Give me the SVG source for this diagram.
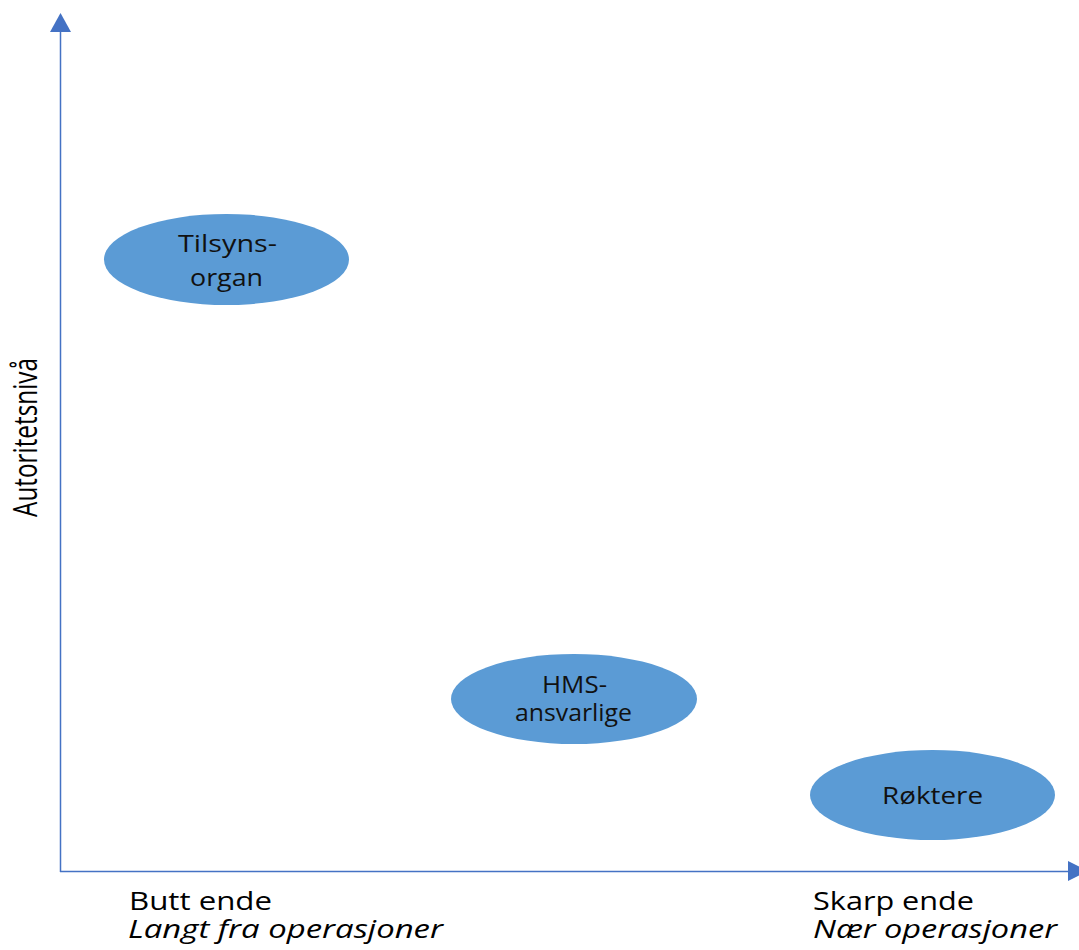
<svg xmlns="http://www.w3.org/2000/svg" width="1079" height="950" viewBox="0 0 1079 950">
  <style>
    .axis { stroke: #4472C4; stroke-width: 1.5; fill: none; }
    .head { fill: #4472C4; }
    .node { fill: #5B9BD5; }
    .lbl { font-family: "Open Sans", "Liberation Sans", sans-serif; fill: #111; }
    .ax { font-family: "Open Sans", "Liberation Sans", sans-serif; fill: #000; }
  </style>
  <rect width="1079" height="950" fill="#ffffff"/>
  <g id="connectors">
    <line class="axis" x1="60.5" y1="872" x2="60.5" y2="28"/>
    <polygon class="head" points="60.5,13 50,32 71,32"/>
    <line class="axis" x1="60" y1="871.5" x2="1072" y2="871.5"/>
    <polygon class="head" points="1088,871 1068,861 1068,881"/>
  </g>
  <g id="axis-labels">
    <text class="ax" font-size="33" transform="translate(37,437.5) rotate(-90)" x="-79.5" y="0" textLength="159" lengthAdjust="spacingAndGlyphs">Autoritetsnivå</text>
    <text class="ax" font-size="26" x="129" y="910" textLength="143" lengthAdjust="spacingAndGlyphs">Butt ende</text>
    <text class="ax" font-size="25" font-style="italic" x="128" y="938" textLength="315" lengthAdjust="spacingAndGlyphs">Langt fra operasjoner</text>
    <text class="ax" font-size="26" x="813" y="910" textLength="161" lengthAdjust="spacingAndGlyphs">Skarp ende</text>
    <text class="ax" font-size="25" font-style="italic" x="813" y="938" textLength="244" lengthAdjust="spacingAndGlyphs">Nær operasjoner</text>
  </g>
  <g id="node-tilsynsorgan">
    <ellipse class="node" cx="226.5" cy="259.5" rx="122.5" ry="45.5"/>
    <text class="lbl" font-size="23" x="178" y="252" textLength="99" lengthAdjust="spacingAndGlyphs">Tilsyns-</text>
    <text class="lbl" font-size="23" x="190" y="286" textLength="73" lengthAdjust="spacingAndGlyphs">organ</text>
  </g>
  <g id="node-hms">
    <ellipse class="node" cx="574" cy="699" rx="123" ry="45"/>
    <text class="lbl" font-size="23" x="542" y="693" textLength="65" lengthAdjust="spacingAndGlyphs">HMS-</text>
    <text class="lbl" font-size="23" x="515" y="721" textLength="117" lengthAdjust="spacingAndGlyphs">ansvarlige</text>
  </g>
  <g id="node-roktere">
    <ellipse class="node" cx="932.5" cy="795" rx="122.5" ry="45"/>
    <text class="lbl" font-size="23" x="882" y="804" textLength="101" lengthAdjust="spacingAndGlyphs">Røktere</text>
  </g>
</svg>
